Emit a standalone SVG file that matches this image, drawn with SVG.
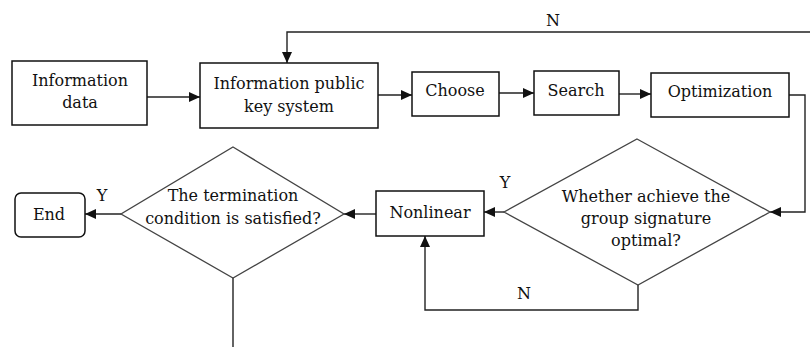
<svg xmlns="http://www.w3.org/2000/svg" width="810" height="347" viewBox="0 0 810 347">
<style>
.box{fill:#fff;stroke:#111;stroke-width:1.5}
.dia{fill:#fff;stroke:#444;stroke-width:1.3}
.ln{fill:none;stroke:#222;stroke-width:1.4}
.lna{fill:none;stroke:#222;stroke-width:1.4;marker-end:url(#ah)}
.t{font-family:'DejaVu Serif',serif;font-size:16px;fill:#111;text-anchor:middle}
</style>
<defs>
<marker id="ah" markerUnits="userSpaceOnUse" markerWidth="12" markerHeight="10" refX="11" refY="5" orient="auto">
<path d="M0,0 L11,5 L0,10 Z" fill="#111"/>
</marker>
</defs>
<rect width="810" height="347" fill="#fff"/>
<g id="connectors">
<line class="lna" x1="147" y1="97" x2="200" y2="97"/>
<line class="lna" x1="378" y1="95" x2="412" y2="95"/>
<line class="lna" x1="499" y1="93" x2="534" y2="93"/>
<line class="lna" x1="619" y1="94" x2="651" y2="94"/>
<polyline class="lna" points="789,95 805,95 805,212 770,212"/>
<line class="lna" x1="504" y1="212" x2="484" y2="212"/>
<polyline class="lna" points="638,285 638,310 425,310 425,236"/>
<line class="lna" x1="376" y1="214" x2="344" y2="214"/>
<line class="lna" x1="121" y1="214" x2="85" y2="214"/>
<polyline class="lna" points="810,32 287,32 287,63"/>
<line class="ln" x1="233" y1="278" x2="233" y2="347"/>
<g class="t">
<text x="553" y="26">N</text>
<text x="505" y="188">Y</text>
<text x="524" y="299">N</text>
<text x="102" y="201">Y</text>
</g>
</g>
<g id="info-data">
<rect class="box" x="12" y="61" width="135" height="64"/>
<g class="t">
<text x="80" y="86">Information</text>
<text x="80" y="108">data</text>
</g>
</g>
<g id="info-pks">
<rect class="box" x="200" y="63" width="178" height="65"/>
<g class="t">
<text x="289" y="89">Information public</text>
<text x="289" y="112">key system</text>
</g>
</g>
<g id="choose">
<rect class="box" x="412" y="72" width="87" height="44"/>
<text class="t" x="455" y="96">Choose</text>
</g>
<g id="search">
<rect class="box" x="534" y="71" width="85" height="44"/>
<text class="t" x="576" y="96">Search</text>
</g>
<g id="optimization">
<rect class="box" x="651" y="73" width="138" height="44"/>
<text class="t" x="720" y="97">Optimization</text>
</g>
<g id="decision-optimal">
<polygon class="dia" points="637,139 770,212 638,285 504,212"/>
<g class="t">
<text x="646" y="202">Whether achieve the</text>
<text x="646" y="224">group signature</text>
<text x="646" y="246">optimal?</text>
</g>
</g>
<g id="nonlinear">
<rect class="box" x="376" y="191" width="108" height="45"/>
<text class="t" x="430" y="218">Nonlinear</text>
</g>
<g id="decision-termination">
<polygon class="dia" points="233,147 344,214 233,278 121,214"/>
<g class="t">
<text x="233" y="201">The termination</text>
<text x="233" y="224">condition is satisfied?</text>
</g>
</g>
<g id="end">
<rect class="box" x="15" y="193" width="70" height="44" rx="6" ry="6"/>
<text class="t" x="49" y="220">End</text>
</g>
</svg>
